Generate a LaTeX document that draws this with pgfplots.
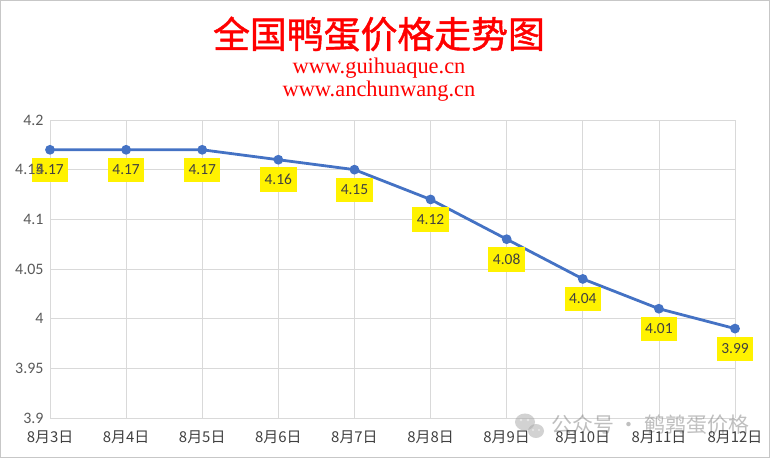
\documentclass[border=0pt]{standalone}
\usepackage{fontspec}
\usepackage{pgfplots}
\pgfplotsset{compat=1.18}
\setmainfont{Carlito}
\newfontfamily\cjk{Noto Sans CJK SC}
\newfontfamily\cjkt[FakeBold=1.2]{Noto Sans CJK SC}
\newfontfamily\urlfont{Liberation Serif}
\definecolor{lineblue}{HTML}{4472C4}
\definecolor{gridgray}{HTML}{D9D9D9}
\definecolor{txtgray}{HTML}{404040}
\definecolor{tickgray}{HTML}{595959}
\pgfplotsset{
  layers/labelsontop/.define layer set={
    axis background,axis grid,axis ticks,axis lines,pre main,main,axis tick labels,axis descriptions,axis foreground
  }{
    grid style={/pgfplots/on layer=axis grid},
    tick style={/pgfplots/on layer=axis ticks},
    axis line style={/pgfplots/on layer=axis lines},
    label style={/pgfplots/on layer=axis descriptions},
    legend style={/pgfplots/on layer=axis descriptions},
    title style={/pgfplots/on layer=axis descriptions},
    ticklabel style={/pgfplots/on layer=axis tick labels},
  },
}
\begin{document}
\begin{tikzpicture}[x=1bp,y=1bp]
\path (0,0) rectangle (770,458);
\draw[black!22, line width=1.2bp] (0.6,0.6) rectangle (769.4,457.4);
\begin{axis}[
  set layers=labelsontop,
  at={(50bp,40bp)}, anchor=south west,
  scale only axis, width=685bp, height=298bp,
  xmin=0, xmax=9, ymin=3.9, ymax=4.2,
  xtick={0,...,9},
  xticklabels={8月3日,8月4日,8月5日,8月6日,8月7日,8月8日,8月9日,8月10日,8月11日,8月12日},
  ytick={3.9,3.95,4,4.05,4.1,4.15,4.2},
  yticklabels={3.9,3.95,4,4.05,4.1,4.15,4.2},
  grid=major,
  major grid style={draw=gridgray, line width=0.8bp},
  axis line style={draw=none},
  major tick length=0pt,
  xticklabel style={font=\cjk\fontsize{15}{15}\selectfont, text=txtgray, yshift=-9bp},
  yticklabel style={font=\fontsize{16}{16}\selectfont, text=tickgray, xshift=-3bp},
  /pgf/number format/assume math mode=true,
  clip=false,
]
\addplot[color=lineblue, line width=2.8bp, mark=*, mark size=3.4bp,
  mark options={fill=lineblue, draw=lineblue},
  nodes near coords={\pgfmathprintnumber[fixed,fixed zerofill,precision=2]{\pgfplotspointmeta}},
  every node near coord/.append style={anchor=center, yshift=-20bp, fill=yellow,
    inner xsep=4.5bp, inner ysep=7bp, font=\fontsize{15.5}{15.5}\selectfont, text=txtgray}]
coordinates {
(0,4.17) (1,4.17) (2,4.17) (3,4.16) (4,4.15) (5,4.12) (6,4.08) (7,4.04) (8,4.01) (9,3.99)
};
\end{axis}
\node[text=red, font=\cjkt\fontsize{37}{37}\selectfont] at (379,424) {全国鸭蛋价格走势图};
\node[text=red, font=\urlfont\fontsize{22.5}{22.5}\selectfont] at (379,390) {www.guihuaque.cn};
\node[text=red, font=\urlfont\fontsize{22.5}{22.5}\selectfont] at (379,367) {www.anchunwang.cn};
% watermark
\begin{scope}[opacity=0.5]
\fill[gray!70] (525,36) ellipse (10 and 8.5);
\fill[gray!70] (536,27) ellipse (8 and 7);
\fill[white] (521,38) circle (1.3); \fill[white] (528,38) circle (1.3);
\fill[white] (533,28) circle (1.1); \fill[white] (539,28) circle (1.1);
\node[text=gray, font=\cjk\fontsize{21}{21}\selectfont, anchor=west] at (548,33) {公众号 · 鹌鹑蛋价格};
\end{scope}
\end{tikzpicture}
\end{document}
